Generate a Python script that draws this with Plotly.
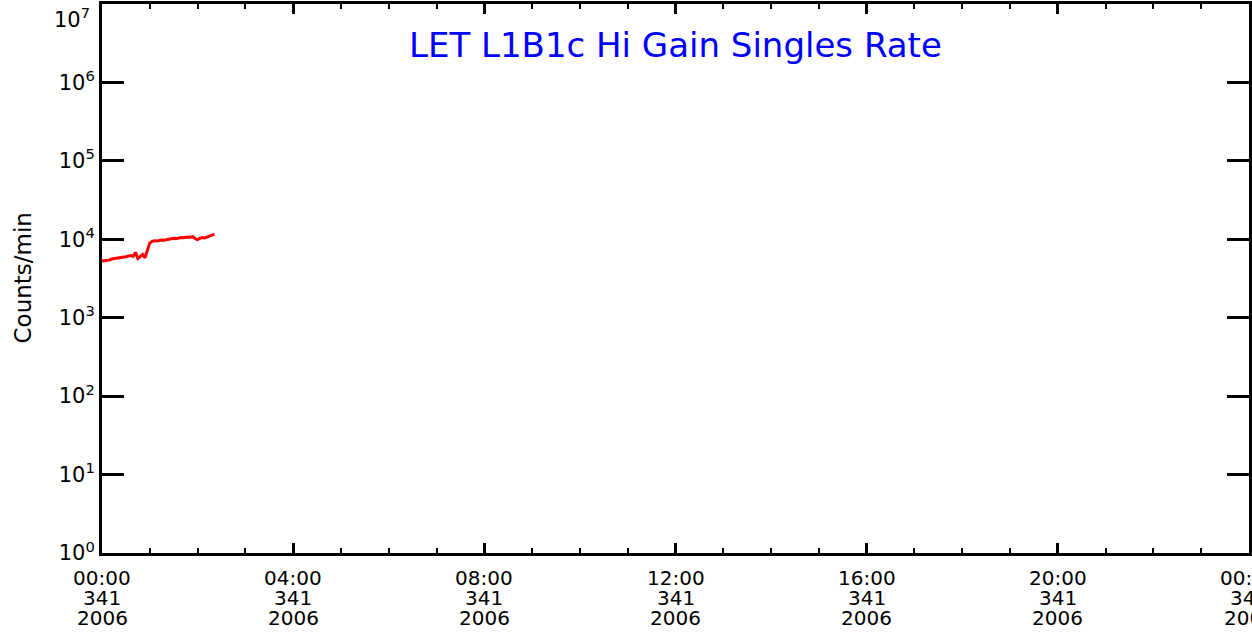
import pandas as pd
import plotly.graph_objects as go

# minutes after 00:00 on day 341 of 2006
minutes = [0, 3, 6, 9, 12, 15, 18, 21, 24, 27, 30, 33, 36, 39, 42, 45, 48, 51, 54, 57,
           60, 63, 66, 69, 72, 75, 78, 81, 84, 87, 90, 93, 96, 99, 102, 105, 108, 111,
           114, 117, 120, 123, 126, 129, 132, 135, 138, 141]
counts = [5300, 5350, 5450, 5420, 5600, 5650, 5700, 5800, 5850, 5950, 6000, 6100,
          6200, 6050, 6800, 5700, 6100, 6400, 5800, 7200, 9000, 9400, 9600, 9500,
          9700, 9800, 9750, 9900, 10000, 10100, 10300, 10200, 10400, 10500, 10450,
          10600, 10700, 10650, 10800, 10200, 9900, 10300, 10500, 10400, 10800, 11000,
          11300, 11600]

tick_hours = [0, 4, 8, 12, 16, 20, 24]
tick_clock = ['00:00', '04:00', '08:00', '12:00', '16:00', '20:00', '00:00']
tick_doy = ['341', '341', '341', '341', '341', '341', '342']
tick_year = ['2006', '2006', '2006', '2006', '2006', '2006', '2006']
y_exps = [0, 1, 2, 3, 4, 5, 6, 7]

start = pd.Timestamp('2006-12-07 00:00')
times = [start + pd.Timedelta(minutes=m) for m in minutes]
tick_vals = [start + pd.Timedelta(hours=h) for h in tick_hours]

fig = go.Figure(go.Scatter(
    x=times, y=counts, mode='lines',
    line=dict(color='red', width=3),
))

font = 'DejaVu Sans'
fig.update_layout(
    width=1252, height=635,
    margin=dict(l=102, r=3, t=4, b=82),
    paper_bgcolor='white', plot_bgcolor='white',
    showlegend=False,
    font=dict(family=font, size=20, color='black'),
)
fig.update_xaxes(
    range=[tick_vals[0], tick_vals[-1]],
    tickvals=tick_vals, showticklabels=False, automargin=False,
    ticks='inside', ticklen=10, tickwidth=3, tickcolor='black',
    showline=True, linewidth=3, linecolor='black', mirror='allticks',
    showgrid=False, zeroline=False,
    minor=dict(ticks='inside', ticklen=5, tickwidth=2, tickcolor='black',
               dtick=3600000, showgrid=False),
)
# top label (10^7) is drawn as an annotation so it sits inside the page
ytext = ['10<sup>%d</sup>' % e for e in y_exps]
fig.update_yaxes(
    type='log', range=[0, 7], automargin=False,
    tickvals=[10 ** e for e in y_exps],
    ticktext=ytext[:-1] + [''],
    ticklabeloverflow='allow',
    ticks='inside', ticklen=22, tickwidth=3, tickcolor='black',
    showline=True, linewidth=3, linecolor='black', mirror='allticks',
    showgrid=False, zeroline=False,
    tickfont=dict(size=21),
)
fig.add_annotation(
    text=ytext[-1], xref='paper', yref='paper', x=0, y=1,
    xanchor='right', yanchor='top', xshift=-10, yshift=2,
    showarrow=False, font=dict(size=21),
)

# three-line time labels under the x axis
for t, a, b, c in zip(tick_vals, tick_clock, tick_doy, tick_year):
    for k, txt in enumerate([a, b, c]):
        fig.add_annotation(
            text=txt, x=t, xref='x', y=0, yref='paper',
            xanchor='center', yanchor='middle', yshift=-25 - 20 * k,
            showarrow=False, font=dict(size=20),
        )

fig.add_annotation(
    text='Counts/min', xref='paper', yref='paper', x=0, y=0.5,
    xanchor='center', yanchor='middle', xshift=-80, textangle=-90,
    showarrow=False, font=dict(size=23),
)
fig.add_annotation(
    text='LET L1B1c Hi Gain Singles Rate', xref='paper', yref='paper',
    x=0.5, y=0.925, xanchor='center', yanchor='middle', showarrow=False,
    font=dict(family=font, size=34, color='blue'),
)

fig.write_html('out.html', config={'displayModeBar': False},
               post_script="document.body.style.margin='0';")
